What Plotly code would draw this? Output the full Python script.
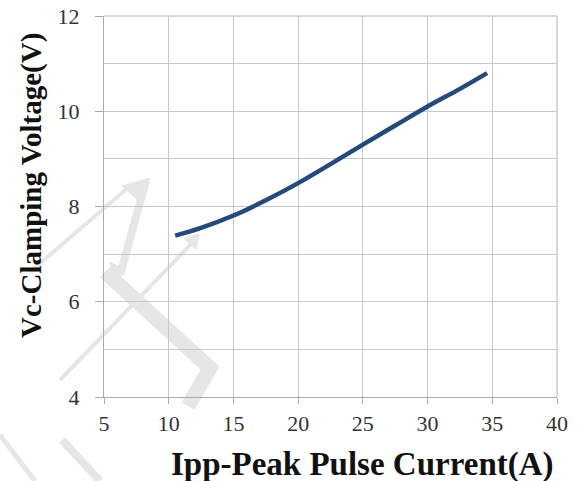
import plotly.graph_objects as go

# data
ipp = [10.5, 12.5, 15, 17.5, 20, 22.5, 25, 27.5, 30, 32.5, 34.6]
vc = [7.39, 7.55, 7.81, 8.13, 8.49, 8.89, 9.30, 9.70, 10.10, 10.47, 10.80]

x_title = "Ipp-Peak Pulse Current(A)"
y_title = "Vc-Clamping Voltage(V)"

serif = "Liberation Serif, Times New Roman, serif"
grid = "#c8c8c8"
W, H = 579, 481
L, R, T, B = 104, 22, 16, 84
pw, ph = W - L - R, H - T - B


def px(x, y):
    """pixel position -> paper coords (for decorative watermark only)"""
    return (x - L) / pw, (H - B - y) / ph


def path(points, close=False):
    s = ""
    for i, (x, y) in enumerate(points):
        u, v = px(x, y)
        s += ("M" if i == 0 else "L") + f"{u:.4f},{v:.4f} "
    return s + ("Z" if close else "")


fig = go.Figure()
fig.add_trace(go.Scatter(x=ipp, y=vc, mode="lines",
                         line=dict(color="#234a7b", width=4.5, shape="spline", smoothing=1.0),
                         showlegend=False, hoverinfo="skip"))

# faint background watermark
wm = "#e6e6e6"
strokes = [
    ([(30, 272), (130, 186)], 4),
    ([(146, 181), (120, 275)], 8),
    ([(60, 380), (195, 240)], 4),
    ([(105, 272), (210, 368), (188, 406)], 15),
    ([(0, 435), (35, 481)], 5),
    ([(62, 440), (100, 481)], 8),
]
for pts, w in strokes:
    fig.add_shape(type="path", xref="paper", yref="paper", path=path(pts),
                  line=dict(color=wm, width=w), layer="below")
heads = [
    [(122, 186), (150, 178), (138, 200)],
    [(184, 238), (199, 234), (196, 250)],
    [(110, 262), (126, 270), (114, 282)],
]
for pts in heads:
    fig.add_shape(type="path", xref="paper", yref="paper", path=path(pts, True),
                  fillcolor=wm, line=dict(color=wm, width=1), layer="below")

fig.update_layout(
    width=W, height=H,
    margin=dict(l=L, r=R, t=T, b=B),
    paper_bgcolor="white", plot_bgcolor="rgba(0,0,0,0)",
    font=dict(family=serif, size=22, color="#333"),
    annotations=[
        dict(text=f"<b>{x_title}</b>", xref="paper", yref="paper",
             x=(362 - L) / pw, y=(H - B - 464) / ph, xanchor="center", yanchor="middle",
             showarrow=False, font=dict(family=serif, size=33, color="#111")),
        dict(text=f"<b>{y_title}</b>", xref="paper", yref="paper",
             x=(31.5 - L) / pw, y=(H - B - 185.5) / ph, xanchor="center", yanchor="middle",
             textangle=-90, showarrow=False, font=dict(family=serif, size=29, color="#111")),
    ],
)
fig.update_xaxes(range=[5, 40], dtick=5, tick0=5, automargin=False,
                 showgrid=True, gridcolor=grid, gridwidth=1.4,
                 showline=True, linecolor="#aaa", linewidth=1.4,
                 ticks="outside", ticklen=6, tickcolor="#aaa",
                 zeroline=False)
fig.update_yaxes(range=[4, 12], dtick=2, tick0=4, automargin=False,
                 showgrid=True, gridcolor=grid, gridwidth=1.4,
                 minor=dict(dtick=1, showgrid=True, gridcolor=grid, gridwidth=1.4, ticks=""),
                 showline=True, linecolor="#aaa", linewidth=1.4,
                 ticks="outside", ticklen=8, tickcolor="#aaa",
                 ticklabelstandoff=11,
                 zeroline=False)
fig.add_shape(type="line", xref="paper", yref="paper", x0=0, x1=1, y0=1, y1=1, line=dict(color=grid, width=1.4))
fig.add_shape(type="line", xref="paper", yref="paper", x0=1, x1=1, y0=0, y1=1, line=dict(color=grid, width=1.4))

fig.write_html("out.html", config={"displayModeBar": False},
               post_script="document.body.style.margin='0';")
